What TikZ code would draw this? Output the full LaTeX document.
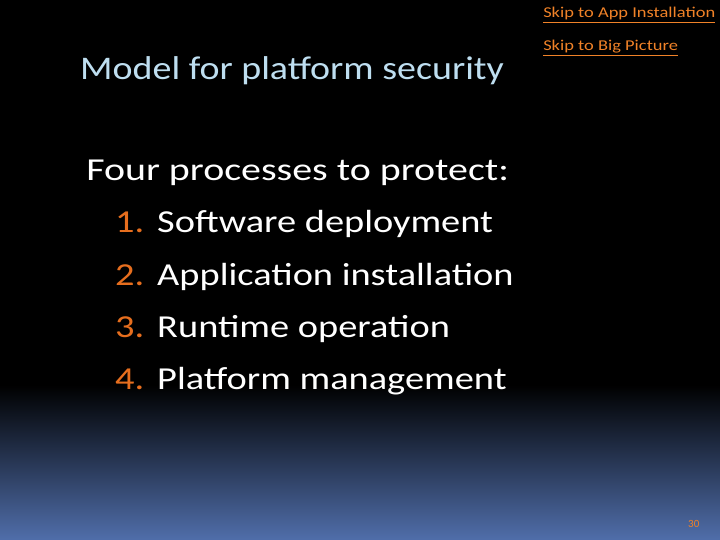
\documentclass[tikz,border=0pt]{standalone}
\usepackage{fontspec}
\setmainfont{Carlito}
\definecolor{titleblue}{RGB}{190,222,240}
\definecolor{numor}{RGB}{230,110,30}
\definecolor{linkor}{RGB}{240,130,40}
\definecolor{botblue}{RGB}{80,110,170}
\begin{document}
\begin{tikzpicture}[x=1pt,y=1pt,
  body/.style={anchor=base west,text=white,font=\fontsize{32}{36}\selectfont,inner sep=0,xscale=1.2},
  num/.style={anchor=base west,text=numor,font=\fontsize{32}{36}\selectfont,inner sep=0,xscale=1.2},
  lnk/.style={anchor=base west,text=linkor,font=\fontsize{15}{16}\selectfont,inner sep=0,xscale=1.23}]
\useasboundingbox (0,0) rectangle (720,-540);
\fill[black] (0,0) rectangle (720,-540);
\shade[top color=black,bottom color=botblue] (0,-385) rectangle (720,-540);
\node[anchor=base west,text=titleblue,font=\fontsize{33}{36}\selectfont,inner sep=0,xscale=1.15] (title) at (80,-80) {Model for platform security};
\node[lnk] (l1) at (543,-18) {\underline{Skip to App Installation}};
\node[lnk] (l2) at (543,-51) {\underline{Skip to Big Picture}};
\node[body,xscale=1.04] (head) at (86,-181) {Four processes to protect:};
\node[num] (n1) at (115,-233) {1.};
\node[body] (i1) at (157,-233) {Software deployment};
\node[num] (n2) at (115,-285) {2.};
\node[body] (i2) at (157,-285) {Application installation};
\node[num] (n3) at (115,-337) {3.};
\node[body] (i3) at (157,-337) {Runtime operation};
\node[num] (n4) at (115,-389) {4.};
\node[body] (i4) at (157,-389) {Platform management};
\node[anchor=base west,text=linkor,font=\fontsize{11}{12}\selectfont,inner sep=0] (pg) at (688,-527) {30};
\end{tikzpicture}
\end{document}
